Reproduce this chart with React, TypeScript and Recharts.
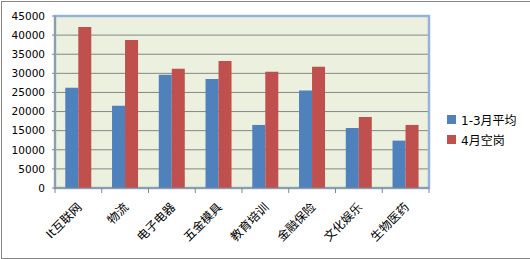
import React from 'react';
import { BarChart, Bar, XAxis, YAxis, CartesianGrid, ReferenceArea, Legend } from 'recharts';

const categories = ['It互联网', '物流', '电子电器', '五金模具', '教育培训', '金融保险', '文化娱乐', '生物医药'];
const avgQ1 = [26200, 21500, 29600, 28500, 16500, 25500, 15700, 12400];
const aprVacancy = [42100, 38700, 31200, 33200, 30400, 31700, 18600, 16500];
const yTicks = [0, 5000, 10000, 15000, 20000, 25000, 30000, 35000, 40000, 45000];
const seriesNames = ['1-3月平均', '4月空岗'];

const data = categories.map((c, i) => ({ name: c, a: avgQ1[i], b: aprVacancy[i] }));

const W = 530;
const H = 259;
const M = { top: 16, right: 101, left: 0, bottom: 0 };
const YW = 55;
const XH = 71;
const BAND = (W - M.right - M.left - YW) / categories.length;
const GRAY = '#868686';

const XTick = (props: any) => {
  const { x, y, payload, index } = props;
  const last = index === categories.length - 1;
  return (
    <g>
      <line x1={x - BAND / 2} x2={x - BAND / 2} y1={y} y2={y + 5} stroke={GRAY} />
      {last && <line x1={x + BAND / 2} x2={x + BAND / 2} y1={y} y2={y + 5} stroke={GRAY} />}
      <text
        x={x + 4}
        y={y + 20}
        textAnchor="end"
        fontSize={12}
        fill="#000"
        transform={`rotate(-45 ${x + 4} ${y + 20})`}
      >
        {payload.value}
      </text>
    </g>
  );
};

const renderLegend = (props: any) => {
  const { payload } = props;
  return (
    <div>
      {(payload || []).map((e: any, i: number) => (
        <div key={i} style={{ display: 'flex', alignItems: 'center', height: 20, fontSize: 12, color: '#000', whiteSpace: 'nowrap' }}>
          <span style={{ display: 'inline-block', width: 9, height: 9, background: e.color, marginRight: 5 }} />
          <span>{e.value}</span>
        </div>
      ))}
    </div>
  );
};

export default function App() {
  return (
    <div style={{ position: 'relative', width: W, height: H, overflow: 'hidden', background: '#fff', fontFamily: '"DejaVu Sans", "Noto Sans CJK SC", sans-serif' }}>
      <style>{'body{margin:0}'}</style>
      <div style={{ position: 'absolute', left: 1, top: 1, width: 600, height: 256, border: `1px solid ${GRAY}` }} />
      <BarChart width={W} height={H} data={data} margin={M} barCategoryGap="22%" barGap={0}>
        <CartesianGrid vertical={false} stroke={GRAY} fill="#EBF1DE" strokeOpacity={1} />
        <ReferenceArea y1={0} y2={45000} fill="none" stroke="#95B3D7" strokeWidth={2.5} ifOverflow="visible" />
        <XAxis
          dataKey="name"
          interval={0}
          height={XH}
          tickSize={0}
          tickMargin={0}
          tickLine={false}
          axisLine={{ stroke: GRAY }}
          tick={<XTick />}
        />
        <YAxis
          width={YW}
          domain={[0, 45000]}
          ticks={yTicks}
          interval={0}
          tickSize={3}
          tickMargin={7}
          tickLine={{ stroke: GRAY }}
          axisLine={{ stroke: GRAY }}
          tick={{ fontSize: 10.5, fill: '#000' }}
        />
        <Legend
          layout="horizontal"
          verticalAlign="middle"
          align="center"
          content={renderLegend}
          wrapperStyle={{ position: 'absolute', left: 447, top: 109, width: 80, height: 40 }}
        />
        <Bar dataKey="a" name={seriesNames[0]} fill="#4F81BD" isAnimationActive={false} />
        <Bar dataKey="b" name={seriesNames[1]} fill="#C0504D" isAnimationActive={false} />
      </BarChart>
    </div>
  );
}
